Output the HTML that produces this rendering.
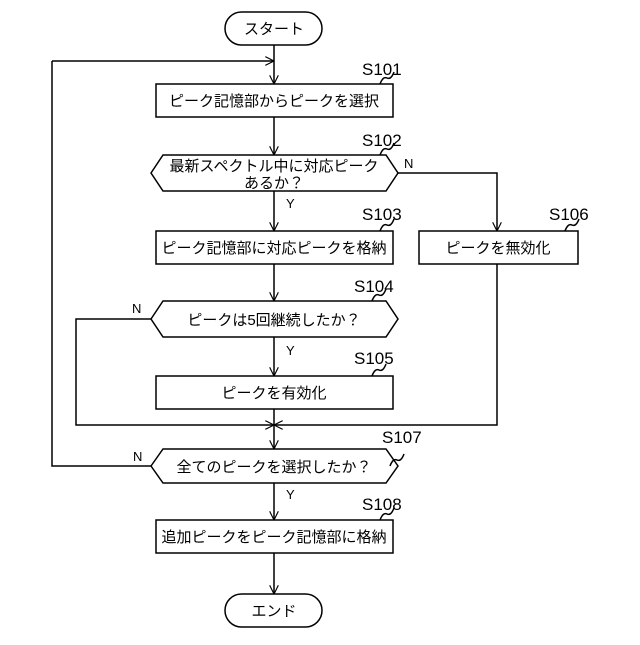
<!DOCTYPE html>
<html><head><meta charset="utf-8"><style>
body{margin:0;background:#fff}
svg text{font-family:"Liberation Sans","Noto Sans CJK JP",sans-serif;fill:#000}
</style></head><body>
<svg width="640" height="640" viewBox="0 0 640 640" xmlns="http://www.w3.org/2000/svg">
<defs><marker id="a" viewBox="0 0 10 10" refX="10" refY="5" markerWidth="9" markerHeight="9" orient="auto" markerUnits="userSpaceOnUse"><path d="M0,0 L10,5 L0,10" fill="none" stroke="#000" stroke-width="1.3"/></marker></defs>
<g fill="none" stroke="#000" stroke-width="1.5">
<rect x="225" y="12" width="97" height="33" rx="16.5"/>
<rect x="225" y="594" width="97" height="33" rx="16.5"/>
<rect x="156" y="84" width="237" height="33"/>
<rect x="156" y="231" width="237" height="33"/>
<rect x="419" y="231" width="159" height="33"/>
<rect x="156" y="376" width="237" height="33"/>
<rect x="156" y="520" width="237" height="33"/>
<polygon points="151,173 163,155 386,155 398,173 386,191 163,191"/>
<polygon points="151,319 163,301 386,301 398,319 386,337 163,337"/>
<polygon points="151,466 163,449 386,449 398,466 386,483 163,483"/>
<line x1="274" y1="45" x2="274" y2="84" marker-end="url(#a)"/>
<line x1="52" y1="61" x2="274" y2="61" marker-end="url(#a)"/>
<line x1="274" y1="117" x2="274" y2="155" marker-end="url(#a)"/>
<line x1="274" y1="191" x2="274" y2="231" marker-end="url(#a)"/>
<polyline points="398,173 497,173 497,231" marker-end="url(#a)"/>
<line x1="274" y1="264" x2="274" y2="301" marker-end="url(#a)"/>
<line x1="274" y1="337" x2="274" y2="376" marker-end="url(#a)"/>
<line x1="274" y1="409" x2="274" y2="449" marker-end="url(#a)"/>
<polyline points="151,319 76,319 76,425 274,425" marker-end="url(#a)"/>
<polyline points="497,264 497,425 274,425" marker-end="url(#a)"/>
<polyline points="151,466 52,466 52,61"/>
<line x1="274" y1="483" x2="274" y2="520" marker-end="url(#a)"/>
<line x1="274" y1="553" x2="274" y2="594" marker-end="url(#a)"/>
<path d="M380,84 q3,-8 7,-6 q4,2 7,-6"/>
<path d="M380,155 q3,-8 7,-6 q4,2 7,-6"/>
<path d="M380,231 q3,-8 7,-6 q4,2 7,-6"/>
<path d="M565,231 q3,-8 7,-6 q4,2 7,-6"/>
<path d="M372,301 q3,-8 7,-6 q4,2 7,-6"/>
<path d="M372,376 q3,-8 7,-6 q4,2 7,-6"/>
<path d="M390,466 q3,-8 7,-6 q4,2 7,-6"/>
<path d="M380,520 q3,-8 7,-6 q4,2 7,-6"/>
</g>
<g font-size="15" text-anchor="middle">
<text x="274" y="34">スタート</text>
<text x="274" y="616">エンド</text>
<text x="274" y="106">ピーク記憶部からピークを選択</text>
<text x="274" y="171">最新スペクトル中に対応ピーク</text>
<text x="274" y="188">あるか？</text>
<text x="274" y="253">ピーク記憶部に対応ピークを格納</text>
<text x="498" y="253">ピークを無効化</text>
<text x="274" y="325">ピークは5回継続したか？</text>
<text x="274" y="398">ピークを有効化</text>
<text x="274" y="472">全てのピークを選択したか？</text>
<text x="274" y="542">追加ピークをピーク記憶部に格納</text>
</g>
<g font-size="17">
<text x="362" y="75">S101</text>
<text x="362" y="146">S102</text>
<text x="362" y="220">S103</text>
<text x="549" y="220">S106</text>
<text x="354" y="292">S104</text>
<text x="354" y="364">S105</text>
<text x="382" y="443">S107</text>
<text x="362" y="510">S108</text>
</g>
<g font-size="13">
<text x="404" y="168">N</text>
<text x="286" y="208">Y</text>
<text x="132" y="313">N</text>
<text x="286" y="355">Y</text>
<text x="133" y="461">N</text>
<text x="286" y="499">Y</text>
</g>
</svg>
</body></html>
